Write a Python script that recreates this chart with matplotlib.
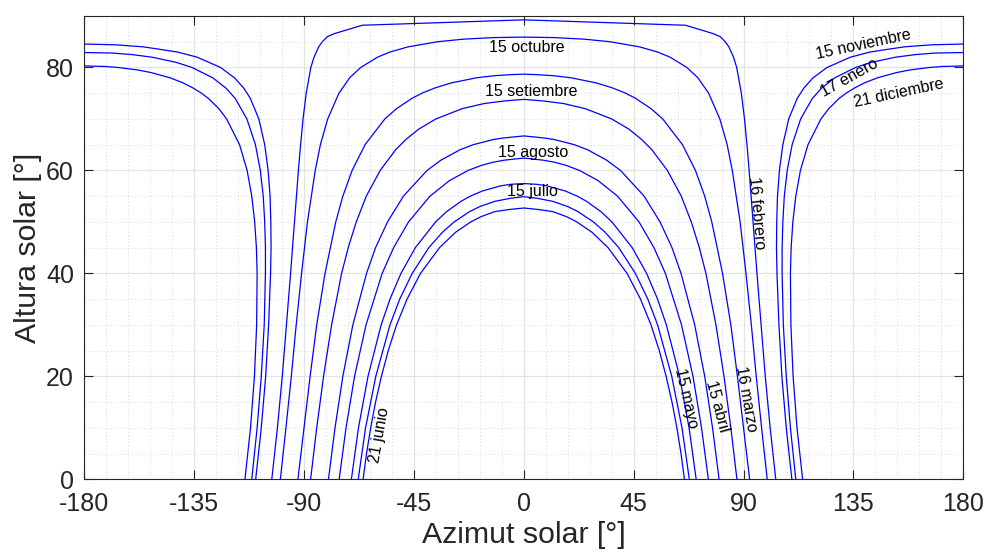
import numpy as np
import matplotlib.pyplot as plt
from matplotlib.ticker import MultipleLocator

# Sun paths: altitude [deg] and |azimuth| [deg] for the morning half
# (the afternoon half is the mirror image around azimuth 0 / 180)

# paths that peak towards the north (azimuth 0)
jun21_alt = [0, 5, 10, 15, 20, 25, 30, 35, 40, 45, 48, 50, 51, 52, 52.4, 52.7]
jun21_az = [65.8, 64.4, 62.7, 60.7, 58.3, 55.5, 52.1, 47.8, 42.3, 34.5, 27.9, 21.7, 17.6, 11.9, 6.1, 0]

jul15_alt = [0, 10, 20, 30, 35, 40, 45, 48, 50, 52, 53, 54, 54.6, 54.9]
jul15_az = [67.8, 64.8, 60.6, 54.8, 50.8, 45.7, 38.9, 33.3, 28.5, 22.2, 17.9, 11.8, 5.3, 0]

may15_alt = [0, 10, 20, 30, 35, 40, 45, 50, 52, 54, 55, 56, 57, 57.3, 57.45]
may15_az = [70.6, 67.7, 63.8, 58.4, 54.8, 50.3, 44.4, 36.1, 31.6, 25.7, 21.9, 17.0, 9.5, 5.4, 0]

aug15_alt = [0, 10, 20, 30, 40, 45, 50, 55, 58, 60, 61, 61.6, 62, 62.4]
aug15_az = [75.6, 72.8, 69.3, 64.6, 58.0, 53.3, 47.2, 38.4, 30.5, 22.8, 17.2, 12.5, 7.8, 0]

apr15_alt = [0, 10, 20, 30, 40, 45, 50, 55, 60, 62, 64, 65, 66, 66.3, 66.7]
apr15_az = [80.0, 77.3, 74.1, 70.0, 64.4, 60.7, 55.8, 49.3, 39.6, 33.9, 26.2, 20.7, 12.5, 8.4, 0]

sep15_alt = [0, 10, 20, 30, 40, 45, 50, 55, 60, 64, 66, 68, 70, 72, 73, 73.5, 73.8]
sep15_az = [87.3, 84.8, 82.0, 78.7, 74.6, 71.9, 68.6, 64.5, 58.8, 52.5, 48.3, 43.1, 36.0, 25.2, 16.2, 7.8, 0]

mar16_alt = [0, 10, 20, 30, 40, 50, 55, 60, 65, 70, 72, 74, 75, 76, 77, 78, 78.4, 78.6, 78.7]
mar16_az = [92.5, 90.0, 87.5, 84.8, 81.4, 77.0, 74.1, 70.3, 65.0, 56.9, 52.1, 45.8, 41.7, 36.5, 29.7, 19.3, 12.1, 5.5, 0]

oct15_alt = [0, 10, 20, 30, 40, 50, 60, 65, 70, 75, 78, 80, 82, 83, 84, 85, 85.5, 85.8, 85.9]
oct15_az = [99.7, 97.4, 95.2, 93.2, 91.0, 88.6, 85.4, 83.3, 80.3, 75.7, 71.3, 66.8, 59.9, 54.8, 47.4, 35.3, 24.6, 12.7, 0]

feb16_alt = [0, 10, 20, 30, 40, 50, 60, 65, 70, 75, 80, 82, 84, 85, 86, 86.6, 88.2, 89.25]
feb16_az = [103.2, 100.9, 98.9, 97.2, 95.5, 93.9, 92.3, 91.4, 90.4, 89.1, 87.2, 85.9, 84.0, 82.5, 80.4, 77.4, 66.2, 0]

# paths that peak towards the south (azimuth 180)
nov15_alt = [0, 10, 20, 30, 40, 45, 50, 55, 60, 65, 70, 74, 76, 78, 80, 82, 83, 84, 84.4, 84.55]
nov15_az = [109.8, 107.5, 105.7, 104.5, 103.7, 103.5, 103.6, 103.9, 104.7, 106.1, 108.5, 112.0, 114.7,
            118.5, 124.2, 133.8, 141.8, 155.7, 167.0, 180]

jan17_alt = [0, 10, 20, 30, 40, 45, 50, 55, 60, 65, 70, 74, 76, 78, 80, 81, 82, 82.5, 82.8, 82.9]
jan17_az = [111.4, 109.2, 107.5, 106.3, 105.8, 105.8, 106.1, 106.7, 107.9, 109.9, 113.4, 118.2, 122.0,
            127.4, 135.9, 142.4, 152.3, 160.4, 168.5, 180]

dec21_alt = [0, 10, 20, 30, 40, 45, 50, 55, 60, 65, 70, 72, 74, 75, 76, 77, 78, 79, 79.5, 80, 80.2, 80.3]
dec21_az = [114.2, 111.9, 110.3, 109.4, 109.2, 109.5, 110.2, 111.4, 113.3, 116.4, 121.7, 124.9, 129.2,
            132.0, 135.4, 139.5, 144.9, 152.6, 157.9, 166.2, 171.6, 180]

north_paths = [(jun21_alt, jun21_az), (jul15_alt, jul15_az), (may15_alt, may15_az),
               (aug15_alt, aug15_az), (apr15_alt, apr15_az), (sep15_alt, sep15_az),
               (mar16_alt, mar16_az), (oct15_alt, oct15_az), (feb16_alt, feb16_az)]
south_paths = [(nov15_alt, nov15_az), (jan17_alt, jan17_az), (dec21_alt, dec21_az)]

# curve labels and where they sit on the chart
labels = ['15 octubre', '15 setiembre', '15 agosto', '15 julio', '21 junio', '16 febrero',
          '15 mayo', '15 abril', '16 marzo', '15 noviembre', '17 enero', '21 diciembre']
label_xy = [(1.4, 83.9), (3.2, 75.3), (3.8, 63.5), (3.7, 55.9), (-58.9, 8.6), (95.3, 51.7),
            (66.4, 15.7), (79.0, 14.1), (91.0, 15.7), (139.0, 84.5), (133.3, 78.0), (153.7, 75.0)]
label_rot = [0, 0, 0, 0, 80, -85, -77, -75, -80, 12, 29, 12]

plt.rcParams['font.family'] = ['Liberation Sans', 'DejaVu Sans']
plt.rcParams['axes.unicode_minus'] = False

fig = plt.figure(figsize=(9.89, 5.59), dpi=100)
ax = fig.add_axes([0.0852, 0.1426, 0.8888, 0.8288])

blue = '#0000ff'
for alt, az in north_paths:
    alt = np.array(alt)
    az = np.array(az)
    x = np.concatenate([-az, az[::-1]])
    y = np.concatenate([alt, alt[::-1]])
    ax.plot(x, y, color=blue, lw=0.9)

for alt, az in south_paths:
    alt = np.array(alt)
    az = np.array(az)
    ax.plot(-az, alt, color=blue, lw=0.9)
    ax.plot(az, alt, color=blue, lw=0.9)

for s, (x, y), r in zip(labels, label_xy, label_rot):
    ax.text(x, y, s, rotation=r, ha='center', va='center', fontsize=11.5,
            rotation_mode='anchor', color='black')

ax.set_xlim(-180, 180)
ax.set_ylim(0, 90)
ax.set_xticks(np.arange(-180, 181, 45))
ax.set_yticks([0, 20, 40, 60, 80])
ax.xaxis.set_minor_locator(MultipleLocator(9))
ax.yaxis.set_minor_locator(MultipleLocator(5))

ax.set_axisbelow(True)
ax.grid(which='major', color='#e3e3e3', lw=0.9, ls='-')
ax.grid(which='minor', color='#cccccc', lw=0.6, ls=(0, (1, 3)))

ax.tick_params(which='major', direction='in', length=6.5, width=0.8, top=True, right=True,
               labelsize=18, colors='#262626')
ax.tick_params(axis='x', which='major', pad=9)
ax.tick_params(axis='y', which='major', pad=7.4)
ax.tick_params(which='minor', length=0, top=True, right=True)
for sp in ax.spines.values():
    sp.set_color('#262626')
    sp.set_linewidth(0.8)

ax.set_xlabel('Azimut solar [°]', fontsize=21.8, color='#262626', labelpad=4)
ax.set_ylabel('Altura solar [°]', fontsize=21.8, color='#262626', labelpad=3)

fig.savefig('out.png', dpi=100)
